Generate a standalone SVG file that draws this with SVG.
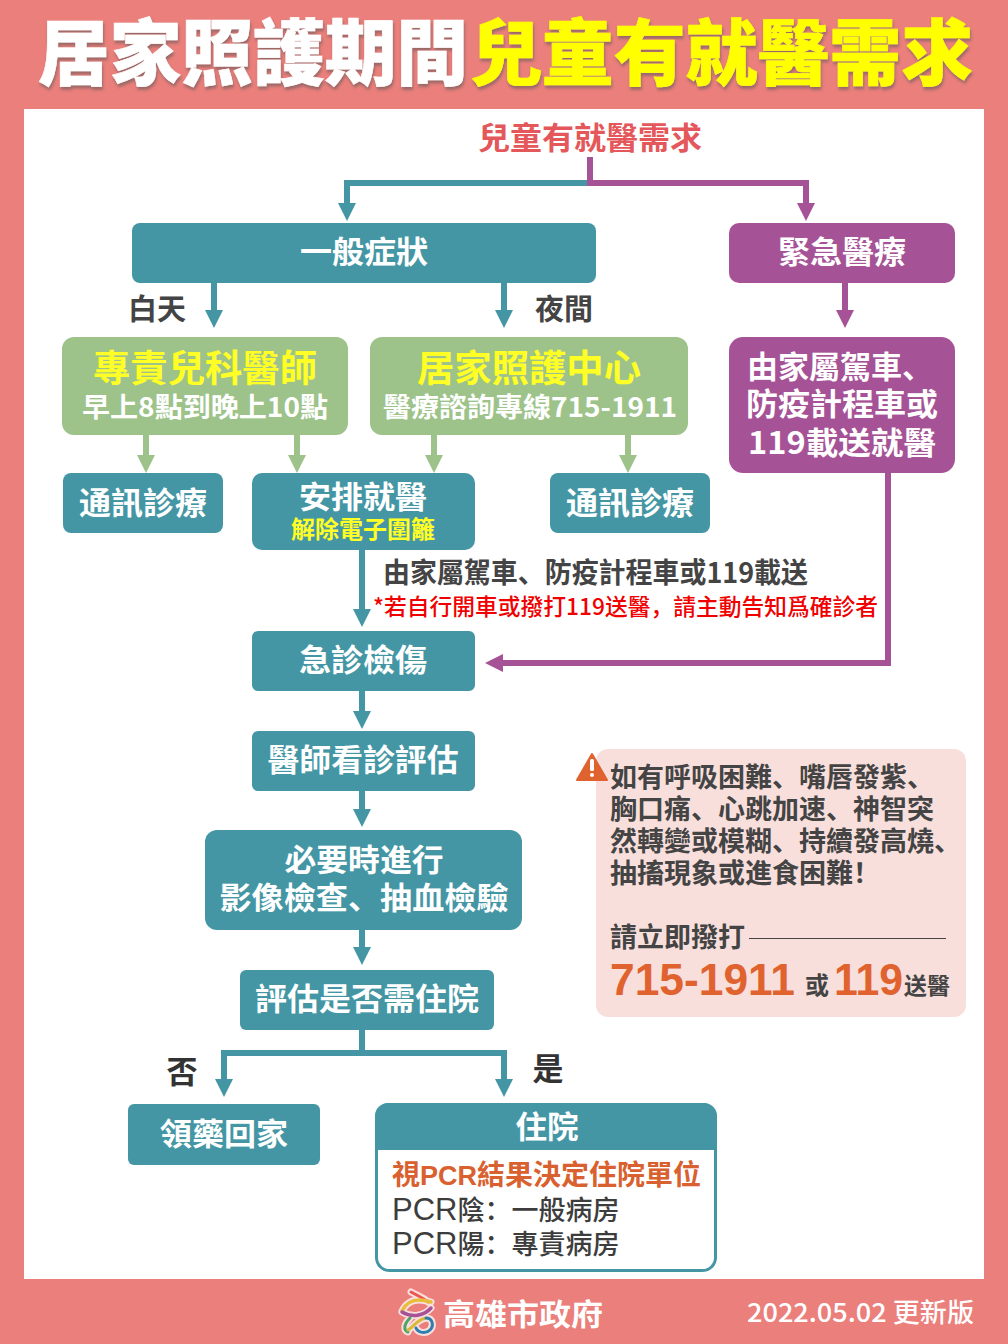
<svg xmlns="http://www.w3.org/2000/svg" width="1008" height="1344" viewBox="0 0 1008 1344">
<style>
text{font-family:"Noto Sans CJK SC","Noto Sans CJK TC","Liberation Sans",sans-serif;font-weight:700}
.c{text-anchor:middle}
.w{fill:#fff}
.y{fill:#ffff26}
.d{fill:#444}
.teal{fill:#4496a4}
.pur{fill:#a65296}
.grn{fill:#9dc38a}
.lt{stroke:#4496a4;stroke-width:6;fill:none}
.lp{stroke:#a65296;stroke-width:6;fill:none}
.lg{stroke:#9dc38a;stroke-width:6;fill:none}
.n{font-size:31px}
.lat{font-family:"Liberation Sans",sans-serif}
.tt{font-weight:900;stroke-width:.6}
</style>
<defs>
<marker id="at" markerUnits="userSpaceOnUse" markerWidth="20" markerHeight="20" refX="2" refY="9" orient="auto"><path d="M0 0L18 9L0 18Z" fill="#4496a4"/></marker>
<marker id="ap" markerUnits="userSpaceOnUse" markerWidth="20" markerHeight="20" refX="2" refY="9" orient="auto"><path d="M0 0L18 9L0 18Z" fill="#a65296"/></marker>
<marker id="ag" markerUnits="userSpaceOnUse" markerWidth="20" markerHeight="20" refX="2" refY="9" orient="auto"><path d="M0 0L18 9L0 18Z" fill="#9dc38a"/></marker>
<filter id="sh" x="-5%" y="-15%" width="110%" height="135%"><feDropShadow dx="1" dy="3" stdDeviation="1.500" flood-color="#555" flood-opacity=".55"/></filter>
</defs>
<rect width="1008" height="1344" fill="#eb7f7b"/>
<rect x="24" y="109" width="960" height="1170" fill="#fff"/>
<g id="title" filter="url(#sh)" font-size="72">
<text x="38" y="79" class="w tt" stroke="#fff" textLength="430" lengthAdjust="spacingAndGlyphs">居家照護期間</text>
<text x="470" y="79" class="tt" fill="#ffff00" stroke="#ffff00" textLength="503" lengthAdjust="spacingAndGlyphs">兒童有就醫需求</text>
</g>
<g id="connectors">
<path class="lp" d="M590 157V183H806V205" marker-end="url(#ap)"/>
<path class="lt" d="M590 183H347V205" marker-end="url(#at)"/>
<path class="lp" d="M590 157V186"/>
<path class="lt" d="M214 283V312" marker-end="url(#at)"/>
<path class="lt" d="M504 283V312" marker-end="url(#at)"/>
<path class="lp" d="M845 283V312" marker-end="url(#ap)"/>
<path class="lg" d="M146 435V457" marker-end="url(#ag)"/>
<path class="lg" d="M297 435V457" marker-end="url(#ag)"/>
<path class="lg" d="M434 435V457" marker-end="url(#ag)"/>
<path class="lg" d="M628 435V457" marker-end="url(#ag)"/>
<path class="lt" d="M362 550V611" marker-end="url(#at)"/>
<path class="lp" d="M888 473V663H501" marker-end="url(#ap)"/>
<path class="lt" d="M362 691V713" marker-end="url(#at)"/>
<path class="lt" d="M362 791V811" marker-end="url(#at)"/>
<path class="lt" d="M362 930V949" marker-end="url(#at)"/>
<path class="lt" d="M362 1030V1053H224V1081" marker-end="url(#at)"/>
<path class="lt" d="M362 1053H504V1081" marker-end="url(#at)"/>
</g>
<g id="root"><text x="590" y="149" class="c" font-size="31" fill="#e4575a" textLength="224" lengthAdjust="spacingAndGlyphs">兒童有就醫需求</text></g>
<g id="general"><rect x="132" y="223" width="464" height="60" rx="8" class="teal"/><text x="364" y="263" class="c w n" textLength="128" lengthAdjust="spacingAndGlyphs">一般症狀</text></g>
<g id="emergency"><rect x="729" y="223" width="226" height="60" rx="10" class="pur"/><text x="842" y="263" class="c w n" textLength="128" lengthAdjust="spacingAndGlyphs">緊急醫療</text></g>
<g id="lbl-day"><text x="157" y="320" class="c d" font-size="29">白天</text></g>
<g id="lbl-night"><text x="564" y="320" class="c d" font-size="29">夜間</text></g>
<g id="pediatric"><rect x="62" y="337" width="286" height="98" rx="12" class="grn"/>
<text x="205" y="382" class="c y" font-size="37" textLength="224" lengthAdjust="spacingAndGlyphs">專責兒科醫師</text>
<text x="205" y="417" class="c w" font-size="27" textLength="246" lengthAdjust="spacingAndGlyphs">早上8點到晚上10點</text></g>
<g id="center"><rect x="370" y="337" width="318" height="98" rx="12" class="grn"/>
<text x="529" y="382" class="c y" font-size="37" textLength="224" lengthAdjust="spacingAndGlyphs">居家照護中心</text>
<text x="530" y="417" class="c w" font-size="27" textLength="294" lengthAdjust="spacingAndGlyphs">醫療諮詢專線715-1911</text></g>
<g id="transport"><rect x="729" y="337" width="226" height="136" rx="14" class="pur"/>
<text x="747" y="378" class="w n">由家屬駕車、</text>
<text x="746" y="415" class="w n" textLength="192" lengthAdjust="spacingAndGlyphs">防疫計程車或</text>
<text x="748" y="454" class="w n" textLength="188" lengthAdjust="spacingAndGlyphs">119載送就醫</text></g>
<g id="tele1"><rect x="63" y="473" width="160" height="60" rx="8" class="teal"/><text x="143" y="514" class="c w n" textLength="128" lengthAdjust="spacingAndGlyphs">通訊診療</text></g>
<g id="arrange"><rect x="252" y="473" width="223" height="77" rx="10" class="teal"/><text x="363" y="508" class="c w n" textLength="128" lengthAdjust="spacingAndGlyphs">安排就醫</text>
<text x="363" y="538" class="c y" font-size="24" textLength="144" lengthAdjust="spacingAndGlyphs">解除電子圍籬</text></g>
<g id="tele2"><rect x="550" y="473" width="160" height="60" rx="8" class="teal"/><text x="630" y="514" class="c w n" textLength="128" lengthAdjust="spacingAndGlyphs">通訊診療</text></g>
<g id="note1"><text x="383" y="583" class="d" font-size="28" textLength="425" lengthAdjust="spacingAndGlyphs">由家屬駕車、防疫計程車或119載送</text></g>
<g id="note2"><text x="373" y="615" fill="#f00000" font-size="23" style="font-weight:500" textLength="505" lengthAdjust="spacingAndGlyphs">*若自行開車或撥打119送醫，請主動告知爲確診者</text></g>
<g id="triage"><rect x="252" y="631" width="223" height="60" rx="6" class="teal"/><text x="363" y="671" class="c w n" textLength="128" lengthAdjust="spacingAndGlyphs">急診檢傷</text></g>
<g id="doctor"><rect x="252" y="731" width="223" height="60" rx="6" class="teal"/><text x="363" y="771" class="c w n" textLength="191" lengthAdjust="spacingAndGlyphs">醫師看診評估</text></g>
<g id="exam"><rect x="205" y="830" width="317" height="100" rx="12" class="teal"/><text x="364" y="871" class="c w n" textLength="159" lengthAdjust="spacingAndGlyphs">必要時進行</text>
<text x="364" y="909" class="c w n" textLength="289" lengthAdjust="spacingAndGlyphs">影像檢查、抽血檢驗</text></g>
<g id="assess"><rect x="240" y="970" width="254" height="60" rx="6" class="teal"/><text x="367" y="1010" class="c w n" textLength="224" lengthAdjust="spacingAndGlyphs">評估是否需住院</text></g>
<g id="lbl-no"><text x="182" y="1083" class="c" fill="#333" font-size="31">否</text></g>
<g id="lbl-yes"><text x="548" y="1080" class="c" fill="#333" font-size="31">是</text></g>
<g id="home"><rect x="128" y="1104" width="192" height="61" rx="6" class="teal"/><text x="224" y="1145" class="c w n" textLength="128" lengthAdjust="spacingAndGlyphs">領藥回家</text></g>
<g id="hospital"><rect x="376.500" y="1104.500" width="339" height="166" rx="13" fill="#fff" stroke="#4496a4" stroke-width="3"/>
<path d="M375 1150V1116a13 13 0 0 1 13-13H704a13 13 0 0 1 13 13V1150Z" class="teal"/>
<text x="547" y="1138" class="c w n" textLength="63" lengthAdjust="spacingAndGlyphs">住院</text>
<text x="392" y="1185" fill="#d9602f" font-size="28">視<tspan class="lat" font-size="27">PCR</tspan>結果決定住院單位</text>
<text x="392" y="1220" fill="#3d3d3d" font-size="27" style="font-weight:500"><tspan class="lat" font-size="31" style="font-weight:400">PCR</tspan>陰：一般病房</text>
<text x="392" y="1254" fill="#3d3d3d" font-size="27" style="font-weight:500"><tspan class="lat" font-size="31" style="font-weight:400">PCR</tspan>陽：專責病房</text></g>
<g id="warning"><rect x="596" y="749" width="370" height="268" rx="12" fill="#f8dfdc"/>
<path d="M592 754L607 780H577Z" fill="#e0622f" stroke="#e0622f" stroke-linejoin="round" stroke-width="2"/>
<rect x="590" y="759" width="4" height="12" rx="1.500" fill="#fff"/><circle cx="592" cy="775" r="2" fill="#fff"/>
<g class="d" font-size="27">
<text x="610" y="787">如有呼吸困難、嘴唇發紫、</text>
<text x="610" y="819">胸口痛、心跳加速、神智突</text>
<text x="610" y="851">然轉變或模糊、持續發高燒、</text>
<text x="610" y="883">抽搐現象或進食困難！</text>
<text x="610" y="947">請立即撥打</text></g>
<path d="M749 938.500H946" stroke="#444" stroke-width="1.200"/>
<text x="610" y="995" class="lat" fill="#e0622f" font-size="45" textLength="185" lengthAdjust="spacingAndGlyphs">715-1911</text>
<text x="805" y="994" class="d" font-size="24">或</text>
<text x="834" y="995" class="lat" fill="#e0622f" font-size="45" textLength="69" lengthAdjust="spacingAndGlyphs">119</text>
<text x="904" y="994" class="d" font-size="23">送醫</text></g>
<g id="logo" fill="none" stroke-linecap="round">
<path d="M411 1292C418 1296 424 1298 428 1302M402 1311C408 1299 418 1298 431 1302M402 1312C412 1318 424 1316 431 1308M410 1318C404 1324 403 1330 408 1332M408 1330C415 1326 416 1320 426 1318C433 1318 434 1326 430 1330C426 1334 418 1333 416 1328" stroke="#fff" stroke-opacity=".75" stroke-width="7"/>
<path d="M411 1292C418 1296 424 1298 428 1302" stroke="#e8574f" stroke-width="3"/>
<path d="M402 1311C408 1299 418 1298 431 1302" stroke="#e8bd3c" stroke-width="3.500"/>
<path d="M402 1312C412 1318 424 1316 431 1308" stroke="#a65296" stroke-width="3.500"/>
<path d="M410 1318C404 1324 403 1330 408 1332" stroke="#4aa668" stroke-width="3"/>
<path d="M408 1330C415 1326 416 1320 426 1318" stroke="#d9b83a" stroke-width="3"/>
<path d="M426 1318C433 1318 434 1326 430 1330C426 1334 418 1333 416 1328" stroke="#2d7fb0" stroke-width="3"/>
</g>
<g id="footer"><text x="443" y="1325" class="w" font-size="30" textLength="160" lengthAdjust="spacingAndGlyphs">高雄市政府</text>
<text x="747" y="1322" class="w" font-size="26" style="font-weight:500" textLength="227" lengthAdjust="spacingAndGlyphs">2022.05.02 更新版</text></g>
</svg>
